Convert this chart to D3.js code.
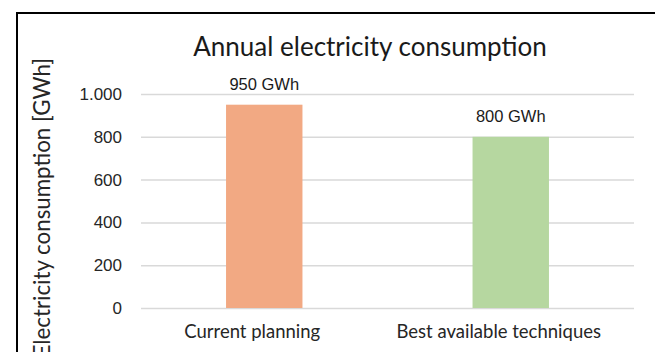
<!DOCTYPE html>
<html>
<head>
<meta charset="utf-8">
<script src="https://cdn.jsdelivr.net/npm/d3@7"></script>
<style>
  body { margin: 0; background: #fff; }
  .tick text { font-family: "Liberation Sans", Arial, sans-serif; font-size: 17px; fill: #262626; }
  .cat { font-family: Lato, "Open Sans", sans-serif; font-size: 18.5px; fill: #262626; }
  .val { font-family: "Liberation Sans", Arial, sans-serif; font-size: 16.5px; fill: #1a1a1a; }
</style>
</head>
<body>
<div id="chart"></div>
<script>
var categories = ["Current planning", "Best available techniques"];
var values = [950, 800];
var colors = ["#f2a983", "#b6d7a0"];
var yTicks = [0, 200, 400, 600, 800, 1000];
var valueLabels = ["950 GWh", "800 GWh"];

var W = 655, H = 352;
var margin = {top: 94, right: 21, bottom: 44, left: 141};

var svg = d3.select("#chart").append("svg")
	.attr("width", W)
	.attr("height", H);

// frame of the original chart box (its right and bottom edges are cut off)
svg.append("rect")
	.attr("x", 17).attr("y", 13)
	.attr("width", 800).attr("height", 500)
	.attr("fill", "none")
	.attr("stroke", "#000")
	.attr("stroke-width", 2);

var x = d3.scaleBand()
	.domain(categories)
	.range([margin.left, W - margin.right])
	.paddingInner(0.69)
	.paddingOuter(0.345);

var y = d3.scaleLinear()
	.domain([0, 1000])
	.range([H - margin.bottom, margin.top]);

var fmt = function(d) { return d3.format(",")(d).replace(",", "."); };

// gridlines + tick labels
var yAxis = svg.append("g")
	.attr("transform", "translate(" + margin.left + ",0)")
	.call(d3.axisLeft(y)
		.tickValues(yTicks)
		.tickFormat(fmt)
		.tickSize(-(W - margin.left - margin.right))
		.tickPadding(19));
yAxis.select(".domain").remove();
yAxis.selectAll(".tick line").attr("stroke", "#d9d9d9").attr("stroke-width", 1.5);

svg.selectAll(".bar")
	.data(values)
	.enter().append("rect")
	.attr("class", "bar")
	.attr("x", function(d, i) { return x(categories[i]); })
	.attr("width", x.bandwidth())
	.attr("y", function(d) { return y(d); })
	.attr("height", function(d) { return y(0) - y(d); })
	.attr("fill", function(d, i) { return colors[i]; });

svg.selectAll(".val")
	.data(values)
	.enter().append("text")
	.attr("class", "val")
	.attr("text-anchor", "middle")
	.attr("x", function(d, i) { return x(categories[i]) + x.bandwidth() / 2; })
	.attr("y", function(d) { return y(d) - 15; })
	.text(function(d, i) { return valueLabels[i]; });

svg.selectAll(".cat")
	.data(categories)
	.enter().append("text")
	.attr("class", "cat")
	.attr("text-anchor", "middle")
	.attr("x", function(d) { return x(d) + x.bandwidth() / 2; })
	.attr("dx", -12)
	.attr("y", H - margin.bottom + 30)
	.text(function(d) { return d; });

svg.append("text")
	.attr("x", 370)
	.attr("y", 56)
	.attr("text-anchor", "middle")
	.style("font-family", "Lato, 'Open Sans', sans-serif")
	.style("font-size", "26px")
	.style("fill", "#1a1a1a")
	.text("Annual electricity consumption");

svg.append("text")
	.attr("transform", "translate(50,58) rotate(-90)")
	.attr("text-anchor", "end")
	.style("font-family", "Lato, 'Open Sans', sans-serif")
	.style("font-size", "22.3px")
	.style("fill", "#262626")
	.text("Electricity consumption [GWh]");
</script>
</body>
</html>
